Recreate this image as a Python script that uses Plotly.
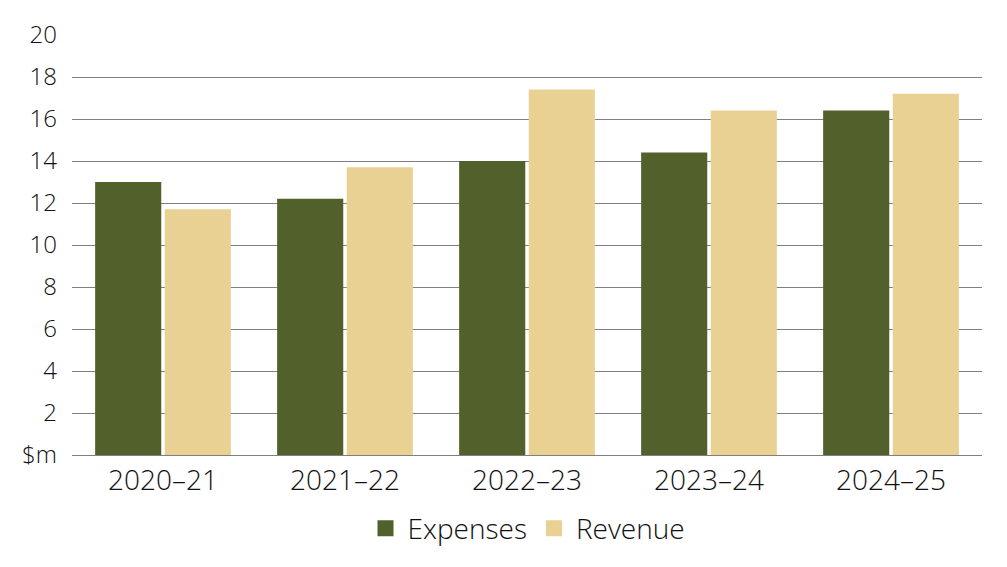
import plotly.graph_objects as go

categories = ["2020–21", "2021–22", "2022–23", "2023–24", "2024–25"]
expenses = [13.0, 12.2, 14.0, 14.4, 16.4]
revenue = [11.7, 13.7, 17.4, 16.4, 17.2]
y_tickvals = [0, 2, 4, 6, 8, 10, 12, 14, 16, 18, 20]
y_ticktext = ["$m", "2", "4", "6", "8", "10", "12", "14", "16", "18", "20"]

exp_color = "#52602B"
rev_color = "#E8D193"
font_family = "Open Sans, Noto Sans, sans-serif"
text_color = "#111111"

fig = go.Figure()
fig.add_trace(go.Bar(x=categories, y=expenses, name="Expenses", showlegend=False,
                     marker=dict(color=exp_color, line=dict(width=0))))
fig.add_trace(go.Bar(x=categories, y=revenue, name="Revenue", showlegend=False,
                     marker=dict(color=rev_color, line=dict(width=0))))
# legend entries with larger square swatches
fig.add_trace(go.Scatter(x=[None], y=[None], mode="markers", name="Expenses",
                         marker=dict(symbol="square", size=16, color=exp_color)))
fig.add_trace(go.Scatter(x=[None], y=[None], mode="markers", name="Revenue",
                         marker=dict(symbol="square", size=16, color=rev_color)))

fig.update_layout(
    width=1007, height=567,
    margin=dict(l=72, r=25, t=35, b=112),
    paper_bgcolor="white", plot_bgcolor="white",
    barmode="group", bargap=0.235, bargroupgap=0.05,
    font=dict(family=font_family, size=24, color=text_color, weight=300),
    showlegend=True,
    legend=dict(orientation="h", x=0.5, xanchor="center", y=-0.175, yanchor="middle",
                font=dict(size=28, color=text_color, weight=300), itemwidth=34,
                traceorder="normal"),
    xaxis=dict(showgrid=False, showline=False, ticks="", ticklabelstandoff=6,
               tickfont=dict(size=28, color=text_color, weight=300)),
    yaxis=dict(range=[0, 20], tickvals=y_tickvals, ticktext=y_ticktext,
               showgrid=True, gridcolor="#7f7f7f", gridwidth=1,
               zeroline=True, zerolinecolor="#7f7f7f", zerolinewidth=1,
               showline=False, ticks="", ticklabelstandoff=14,
               tickfont=dict(size=24, color=text_color, weight=300)),
)

fig.write_html("out.html")
